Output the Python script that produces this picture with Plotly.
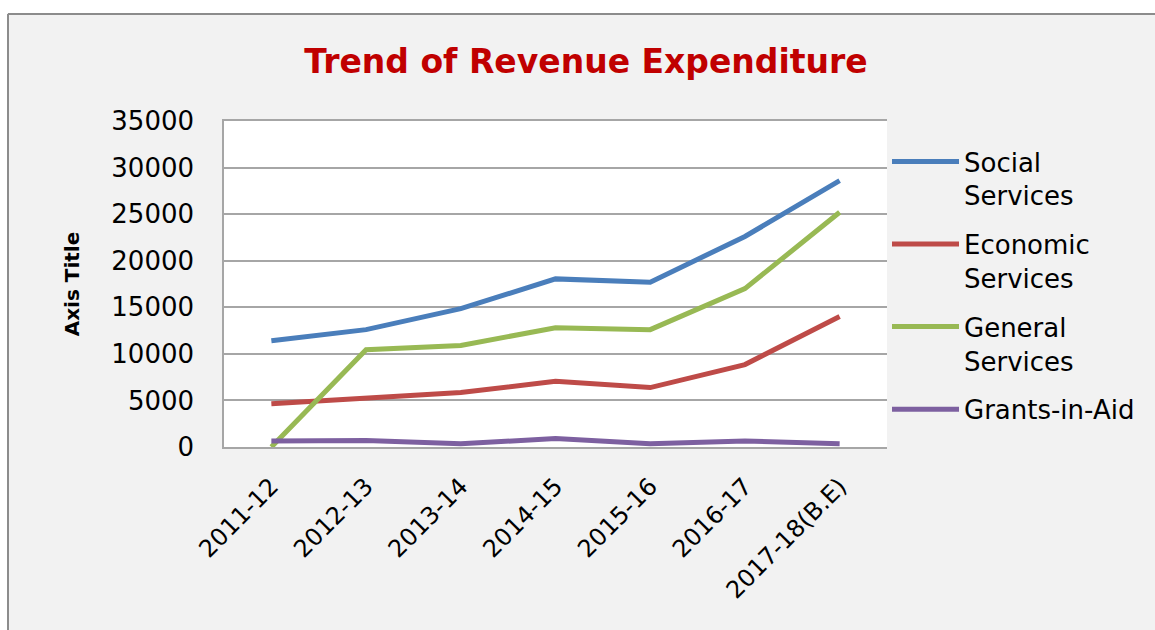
import plotly.graph_objects as go

years = ["2011-12", "2012-13", "2013-14", "2014-15", "2015-16", "2016-17", "2017-18(B.E)"]
social = [11400, 12600, 14850, 18050, 17700, 22600, 28600]
economic = [4650, 5300, 5850, 7050, 6380, 8850, 14000]
general = [0, 10450, 10900, 12800, 12600, 17000, 25200]
grants = [650, 700, 360, 900, 360, 640, 360]

names = ["Social<br>Services", "Economic<br>Services", "General<br>Services", "Grants-in-Aid"]
colors = ["#4a7ebb", "#be4b48", "#98b954", "#7d60a0"]
series = [social, economic, general, grants]

FONT = "DejaVu Sans"

fig = go.Figure()
for i, (nm, col, vals) in enumerate(zip(names, colors, series)):
    fig.add_trace(go.Scatter(
        x=years, y=vals, mode="lines", name=nm, legendgroup=f"g{i}",
        line=dict(color=col, width=5),
    ))

W, H = 1155, 630
L, R, T, B = 224, 887, 121, 447
pw, ph = R - L, B - T

def px(x):
    return (x - L) / pw

def py(y):
    return (B - y) / ph

fig.update_layout(
    width=W, height=H,
    margin=dict(l=L, r=W - R, t=T, b=H - B, autoexpand=False),
    paper_bgcolor="#f2f2f2",
    plot_bgcolor="white",
    font=dict(family=FONT, color="#000000"),
    title=dict(
        text="<b>Trend of Revenue Expenditure</b>",
        x=586 / W, xanchor="center", y=1 - 61.5 / H, yanchor="middle",
        font=dict(family=FONT, size=33, color="#c00000"),
    ),
    showlegend=True,
    legend=dict(
        x=px(887), xanchor="left", y=py(138), yanchor="top",
        bgcolor="rgba(0,0,0,0)", font=dict(family=FONT, size=26, color="#000000"),
        itemwidth=67, valign="top", tracegroupgap=12,
    ),
    shapes=[
        # white page outside the grey chart panel
        dict(type="rect", xref="paper", yref="paper", layer="below",
             x0=px(-5), x1=px(1200), y0=py(13), y1=py(-5),
             fillcolor="white", line=dict(width=0)),
        dict(type="rect", xref="paper", yref="paper", layer="below",
             x0=px(-5), x1=px(7), y0=py(700), y1=py(-5),
             fillcolor="white", line=dict(width=0)),
        # panel border (top and left)
        dict(type="line", xref="paper", yref="paper", layer="below",
             x0=px(8), x1=px(1200), y0=py(14), y1=py(14),
             line=dict(color="#8c8c8c", width=2)),
        dict(type="line", xref="paper", yref="paper", layer="below",
             x0=px(8), x1=px(8), y0=py(14), y1=py(700),
             line=dict(color="#8c8c8c", width=2)),
    ],
)

fig.update_xaxes(
    type="category", range=[-0.5, 6.5], tickangle=-45,
    tickfont=dict(family=FONT, size=24, color="#000000"),
    showgrid=False, showline=True, linecolor="#a6a6a6", linewidth=1.5, mirror=True,
    ticks="", ticklabelstandoff=14,
)
fig.update_yaxes(
    range=[0, 35000], dtick=5000, tickformat="d",
    tickfont=dict(family=FONT, size=26, color="#000000"),
    showgrid=True, gridcolor="#a6a6a6", gridwidth=1.5,
    showline=True, linecolor="#a6a6a6", linewidth=1.5,
    zeroline=False, ticks="", ticklabelstandoff=23,
    title=dict(text="<b>Axis Title</b>", font=dict(family=FONT, size=20, color="#000000"), standoff=26),
)

fig.write_html(
    "out.html",
    config={"displayModeBar": False},
    post_script="document.body.style.margin='0';document.documentElement.style.overflow='hidden';",
)
